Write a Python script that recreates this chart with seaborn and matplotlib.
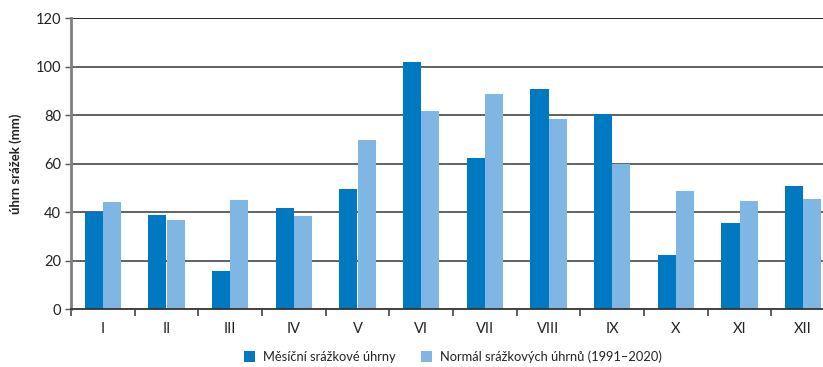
import numpy as np
import pandas as pd
import matplotlib
matplotlib.use("Agg")
import matplotlib.pyplot as plt
import seaborn as sns

months = ["I", "II", "III", "IV", "V", "VI", "VII", "VIII", "IX", "X", "XI", "XII"]
monthly = [40.0, 38.8, 15.7, 41.9, 49.4, 101.7, 62.5, 90.7, 80.5, 22.4, 35.5, 50.6]
normal = [44.1, 36.6, 45.0, 38.6, 69.7, 81.6, 88.5, 78.2, 59.9, 48.7, 44.7, 45.4]
series_names = ["Měsíční srážkové úhrny", "Normál srážkových úhrnů (1991–2020)"]
colors = ["#0079c2", "#80b6e3"]

df = pd.DataFrame({
    "month": months * 2,
    "value": monthly + normal,
    "series": [series_names[0]] * 12 + [series_names[1]] * 12,
})

sns.set_style("white")
plt.rcParams["font.family"] = ["Lato", "DejaVu Sans"]

fig = plt.figure(figsize=(8.23, 3.67), dpi=100)
ax = fig.add_axes([71 / 823, 57.7 / 367, 764 / 823, 291.3 / 367])

# gridlines behind bars
for y in range(20, 121, 20):
    ax.axhline(y, color="#1a1a1a" if y == 120 else "#555555", lw=1.3, zorder=0)

sns.barplot(data=df, x="month", y="value", hue="series", order=months,
            hue_order=series_names, palette=colors, width=0.57,
            saturation=1, edgecolor="none", ax=ax, zorder=2)

ax.set_xlim(-0.5, 11.5)
ax.set_ylim(0, 120)
ax.set_yticks(range(0, 121, 20))
ax.set_xlabel("")
ax.set_ylabel("úhrn srážek (mm)", fontsize=9.5, fontweight="bold", color="#222222", labelpad=10)

ax.tick_params(axis="y", length=4, width=1, color="#555555", labelsize=10.5, labelcolor="#222222", pad=3, left=True)
ax.tick_params(axis="x", which="major", length=0, labelsize=10.5, labelcolor="#222222", pad=9)
ax.set_xticks(np.arange(-0.5, 12, 1), minor=True)
ax.tick_params(axis="x", which="minor", length=5, width=1.2, color="#444444", bottom=True)

for side in ["top", "right"]:
    ax.spines[side].set_visible(False)
ax.spines["left"].set_color("#808080")
ax.spines["left"].set_linewidth(2)
ax.spines["bottom"].set_color("#333333")
ax.spines["bottom"].set_linewidth(1.3)

ax.legend(loc="center", bbox_to_anchor=(0.5, -0.164), ncol=2, frameon=False,
          fontsize=9.3, handlelength=0.85, handleheight=0.95, handletextpad=0.6,
          columnspacing=2.0, labelcolor="#222222")

fig.savefig("out.png", dpi=100)
